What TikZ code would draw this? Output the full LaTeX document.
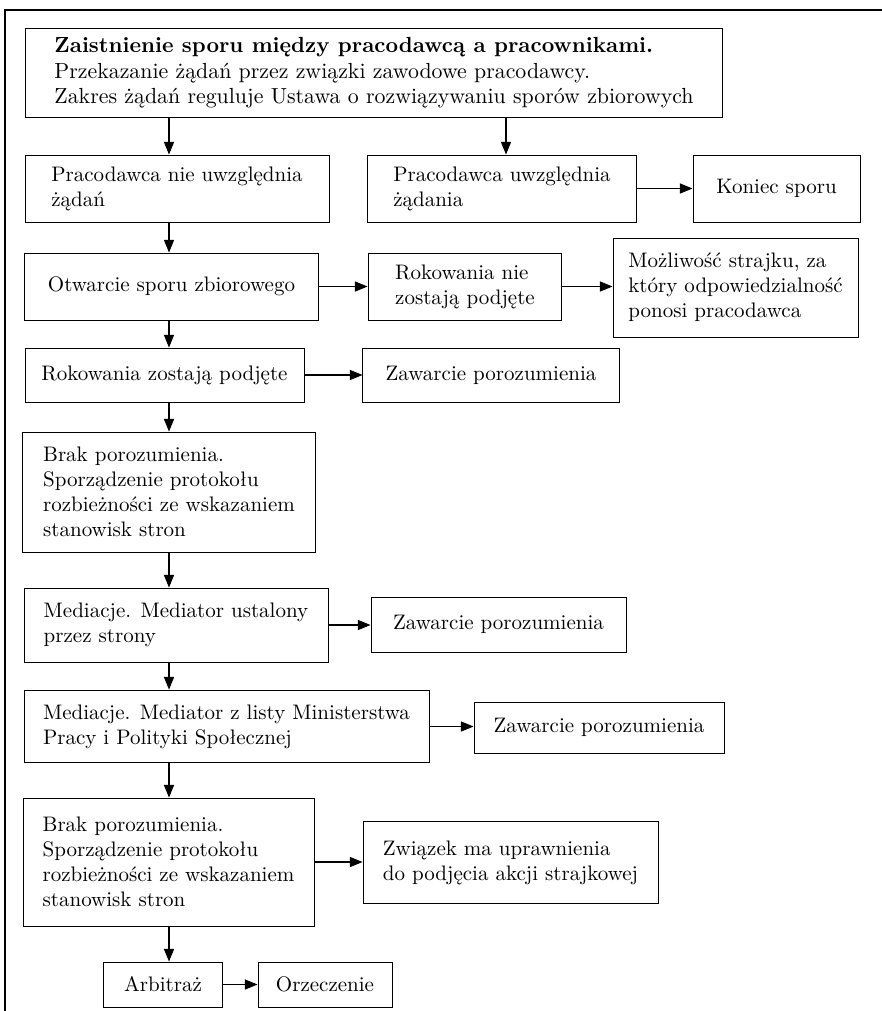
\documentclass[tikz,border=0pt]{standalone}
\usetikzlibrary{arrows.meta}
\tikzset{
  box/.style={draw=black, line width=0.45pt, align=left, inner sep=0pt, font=\fontsize{10}{11.9}\selectfont},
  arr/.style={draw=black, line width=0.5pt, -{Triangle[length=6pt,width=4.8pt]}},
  frameline/.style={draw=black, line width=0.6pt}
}
\begin{document}
\begin{tikzpicture}[x=0.476pt, y=-0.476pt]
\useasboundingbox (0,0) rectangle (882,1011);
% outer frame (top and left edges)
\coordinate (ftl) at (5,10);
\coordinate (ftr) at (882,10);
\coordinate (fbl) at (5,1011);
\draw[frameline] (ftr) -- (ftl) -- (fbl);

\node[box, font=\fontsize{10.4}{12.1}\selectfont, minimum width=332.2pt, minimum height=42.8pt] (b1) at (374,73)
  {\textbf{Zaistnienie sporu między pracodawcą a pracownikami.}\\
   Przekazanie żądań przez związki zawodowe pracodawcy.\\
   Zakres żądań reguluje Ustawa o rozwiązywaniu sporów zbiorowych};

\node[box, minimum width=144.7pt, minimum height=31.9pt] (b2) at (177,188.5)
  {Pracodawca nie uwzględnia\\ żądań};
\node[box, minimum width=127.6pt, minimum height=31.9pt] (b3) at (502,188.5)
  {Pracodawca uwzględnia\\ żądania};
\node[box, minimum width=79.5pt, minimum height=31.9pt] (b4) at (776.5,188.5)
  {Koniec sporu};

\node[box, minimum width=139.5pt, minimum height=31.9pt] (b5) at (171.5,286.5)
  {Otwarcie sporu zbiorowego};
\node[box, minimum width=92.3pt, minimum height=31.9pt] (b6) at (465,286.5)
  {Rokowania nie\\ zostają podjęte};
\node[box, minimum width=116.6pt, minimum height=47.1pt] (b7) at (735.5,287.5)
  {Możliwość strajku, za\\ który odpowiedzialność\\ ponosi pracodawca};

\node[box, minimum width=132.8pt, minimum height=25.7pt] (b8) at (164.5,375)
  {Rokowania zostają podjęte};
\node[box, minimum width=121.9pt, minimum height=25.7pt] (b9) at (491,375)
  {Zawarcie porozumienia};

\node[box, minimum width=139.9pt, minimum height=57.1pt] (b10) at (169,492)
  {Brak porozumienia.\\ Sporządzenie protokołu\\ rozbieżności ze wskazaniem\\ stanowisk stron};

\node[box, minimum width=144.7pt, minimum height=35.2pt] (b11) at (176,625)
  {Mediacje. Mediator ustalony\\ przez strony};
\node[box, minimum width=121.4pt, minimum height=26.2pt] (b12) at (498.5,624.5)
  {Zawarcie porozumienia};

\node[box, minimum width=192.8pt, minimum height=34.7pt] (b13) at (226.5,726.5)
  {Mediacje. Mediator z listy Ministerstwa\\ Pracy i Polityki Społecznej};
\node[box, minimum width=119pt, minimum height=24.3pt] (b14) at (599,727.5)
  {Zawarcie porozumienia};

\node[box, minimum width=138.5pt, minimum height=60.9pt] (b15) at (168.5,862)
  {Brak porozumienia.\\ Sporządzenie protokołu\\ rozbieżności ze wskazaniem\\ stanowisk stron};
\node[box, minimum width=140.4pt, minimum height=38.6pt] (b16) at (510.5,862.5)
  {Związek ma uprawnienia\\ do podjęcia akcji strajkowej};

\node[box, minimum width=56.2pt, minimum height=21.4pt] (b17) at (163,984.5)
  {Arbitraż};
\node[box, minimum width=63.8pt, minimum height=21.4pt] (b18) at (325,984.5)
  {Orzeczenie};

% vertical connector positions
\coordinate (vx) at (169,0);
\coordinate (vxr) at (506,0);

\draw[arr] (b1.south -| vx) -- (b2.north -| vx);
\draw[arr] (b1.south -| vxr) -- (b3.north -| vxr);
\draw[arr] (b2.south -| vx) -- (b5.north -| vx);
\draw[arr] (b5.south -| vx) -- (b8.north -| vx);
\draw[arr] (b8.south -| vx) -- (b10.north -| vx);
\draw[arr] (b10.south -| vx) -- (b11.north -| vx);
\draw[arr] (b11.south -| vx) -- (b13.north -| vx);
\draw[arr] (b13.south -| vx) -- (b15.north -| vx);
\draw[arr] (b15.south -| vx) -- (b17.north -| vx);

% horizontal connectors
\draw[arr] (b3.east) -- (b3.east -| b4.west);
\draw[arr] (b5.east) -- (b5.east -| b6.west);
\draw[arr] (b6.east) -- (b6.east -| b7.west);
\draw[arr] (b8.east) -- (b8.east -| b9.west);
\draw[arr] (b11.east) -- (b11.east -| b12.west);
\draw[arr] (b13.east) -- (b13.east -| b14.west);
\draw[arr] (b15.east) -- (b15.east -| b16.west);
\draw[arr] (b17.east) -- (b17.east -| b18.west);
\end{tikzpicture}
\end{document}
